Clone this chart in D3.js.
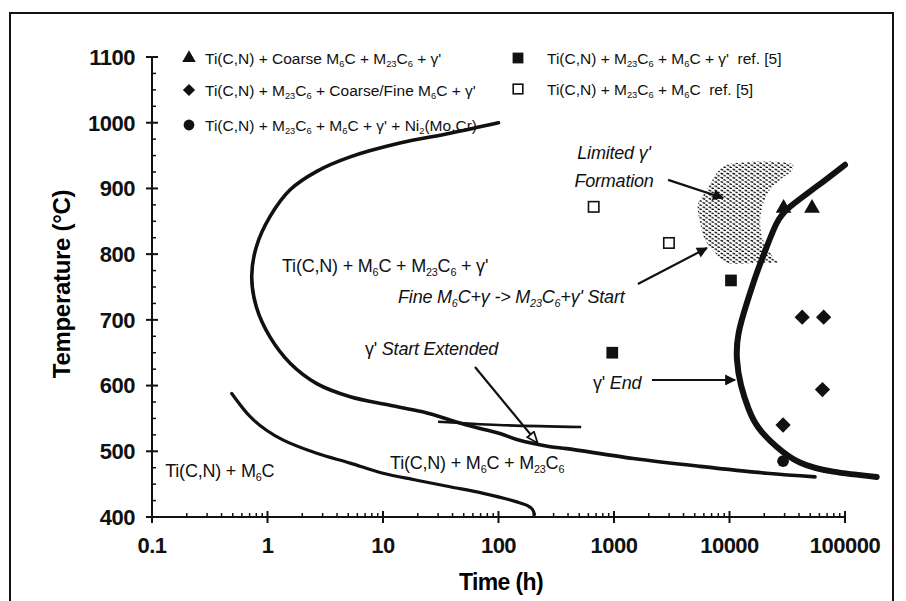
<!DOCTYPE html>
<html><head><meta charset="utf-8">
<script src="https://cdn.jsdelivr.net/npm/d3@7"></script>
<style>
html,body{margin:0;padding:0;background:#fff;}
svg{display:block;font-family:"Liberation Sans",Arial,sans-serif;}
</style></head>
<body><svg id="c" width="906" height="601"></svg>
<script>
// ---------- data ----------
const yTicks = [400, 500, 600, 700, 800, 900, 1000, 1100];
const xTicks = [0.1, 1, 10, 100, 1000, 10000, 100000];
const xTickLabels = ["0.1", "1", "10", "100", "1000", "10000", "100000"];

// gamma' start C-curve [time h, temp C]
const startCurve = [[100,1000],[38,984],[14,969],[5.2,948],[2.67,926],[1.57,898],[1.05,857],[0.8,811],[0.73,766],[0.8,720],[1.05,674],[1.57,634],[2.67,603],[5.2,583],[11.5,570],[22,560],[53,540],[103,527],[144,518],[280,507],[390,504],[1470,489],[5560,477],[21000,466.5],[55000,461]];
const startExtended = [[30,545],[100,540],[520,537]];
const lowerCurve = [[0.49,588],[0.705,553],[0.98,532],[1.37,517],[2.67,497],[5.2,482],[10,466.5],[19.6,456],[38,446],[74,436],[144,423],[180,417],[196,412],[205,404]];
const endCurve = [[100000,936],[56900,903],[33400,872],[25600,847],[21000,811],[17200,771],[14100,725],[12000,680],[11600,640],[12600,600],[14600,565],[17800,536],[25600,507],[40700,483],[79200,469],[188000,461]];
const limitedRegion = [[9500,936],[35500,936],[34800,928],[27400,913],[22400,898],[19500,876],[18400,848],[19500,822],[23800,796],[26300,788],[17300,787],[9500,787],[7490,802],[6140,822],[5560,848],[5340,876],[6380,898],[7800,924]];

// experimental points
const triangles = [[29400,870],[51800,870]];
const diamonds = [[42600,704],[65300,704],[63800,594],[29100,540]];
const circles = [[29100,485]];
const filledSquares = [[10300,760],[966,650]];
const openSquares = [[667,872],[2990,817]];

const legendItems = [
  {sym:"triangle", text:"Ti(C,N) + Coarse M_{6}C + M_{23}C_{6} + γ'"},
  {sym:"diamond", text:"Ti(C,N) + M_{23}C_{6} + Coarse/Fine M_{6}C + γ'"},
  {sym:"circle", text:"Ti(C,N) + M_{23}C_{6} + M_{6}C + γ' + Ni_{2}(Mo,Cr)"},
  {sym:"square", text:"Ti(C,N) + M_{23}C_{6} + M_{6}C + γ'\u00a0\u00a0ref. [5]"},
  {sym:"opensquare", text:"Ti(C,N) + M_{23}C_{6} + M_{6}C\u00a0\u00a0ref. [5]"}
];

const regionLabels = [
  {t:1.335, T:773, text:"Ti(C,N) + M_{6}C + M_{23}C_{6} + γ'", anchor:"start"},
  {t:0.13, T:461, text:"Ti(C,N) + M_{6}C", anchor:"start"},
  {t:11.5, T:473, text:"Ti(C,N) + M_{6}C + M_{23}C_{6}", anchor:"start"}
];
const noteLabels = [
  {t:13.5, T:726, text:"*Fine M_{6}C+γ -> M_{23}C_{6}+γ' Start*", anchor:"start"},
  {t:6.98, T:647, text:"γ' *Start Extended*", anchor:"start"},
  {t:1000, T:945, text:"*Limited γ'*", anchor:"middle"},
  {t:1000, T:902, text:"*Formation*", anchor:"middle"},
  {t:658, T:595, text:"γ' *End*", anchor:"start"}
];
const arrows = [
  {from:[2940,913], to:[8790,885.5]},
  {from:[1610,754.6], to:[6380,809.4]},
  {from:[2130,608.5], to:[11170,608.5]},
  {from:[62.6,628.3], to:[215,514], open:true}
];

// ---------- drawing ----------
const svg = d3.select("#c");
const x = d3.scaleLog().domain([0.1, 100000]).range([152, 845]);
const y = d3.scaleLinear().domain([400, 1100]).range([517, 57]);

// frame
svg.append("path").attr("d","M10,601V13H893V601").attr("fill","none").attr("stroke","#111").attr("stroke-width",2);

const defs = svg.append("defs");
const pat = defs.append("pattern").attr("id","dots").attr("patternUnits","userSpaceOnUse")
  .attr("width",6).attr("height",4.2);
pat.append("path").attr("d","M0.5,1 L3.2,1.9 M3.5,3.2 L6,4").attr("stroke","#000").attr("stroke-width",1.3);
defs.append("marker").attr("id","ah").attr("viewBox","0 0 10 10").attr("refX",9).attr("refY",5)
  .attr("markerWidth",5.5).attr("markerHeight",5).attr("orient","auto")
  .append("path").attr("d","M0,0L10,5L0,10z").attr("fill","#111");
defs.append("marker").attr("id","ao").attr("viewBox","0 0 10 10").attr("refX",9).attr("refY",5)
  .attr("markerWidth",6).attr("markerHeight",5).attr("orient","auto")
  .append("path").attr("d","M0,1L10,5L0,9z").attr("fill","#fff").attr("stroke","#111").attr("stroke-width",1.6);

// rich text helper: _{sub}, *italic*
function rich(sel, str, size) {
  const parts = str.split(/(_\{[^}]*\}|\*)/).filter(s => s !== "");
  let italic = false, shifted = false;
  parts.forEach(p => {
    if (p === "*") { italic = !italic; return; }
    const sub = p.startsWith("_{");
    const txt = sub ? p.slice(2, -1) : p;
    const ts = sel.append("tspan").text(txt).attr("font-style", italic ? "italic" : "normal");
    if (sub) { ts.attr("font-size", size*0.6).attr("dy", shifted ? 0 : size*0.22); shifted = true; }
    else if (shifted) { ts.attr("dy", -size*0.22); shifted = false; }
  });
}

// axes
const axG = svg.append("g").attr("stroke","#111");
axG.append("line").attr("x1",x(0.1)).attr("x2",x(0.1)).attr("y1",y(1100)).attr("y2",y(400)).attr("stroke-width",2);
axG.append("line").attr("x1",x(0.1)).attr("x2",x(100000)).attr("y1",y(400)).attr("y2",y(400)).attr("stroke-width",2);
d3.range(400, 1101, 25).forEach(v => {
  const major = v % 100 === 0;
  axG.append("line").attr("x1", x(0.1) - (major ? 6 : 0)).attr("x2", x(0.1) + (major ? 6 : 4))
    .attr("y1", y(v)).attr("y2", y(v)).attr("stroke-width", major ? 2 : 1.5);
});
x.ticks().forEach(v => {
  const major = Math.abs(Math.log10(v) - Math.round(Math.log10(v))) < 1e-6;
  axG.append("line").attr("x1", x(v)).attr("x2", x(v))
    .attr("y1", y(400) + (major ? 6 : 0)).attr("y2", y(400) - (major ? 6 : 4)).attr("stroke-width", major ? 2 : 1.5);
});
const yl = svg.append("g").attr("font-weight","bold").attr("font-size",22).attr("fill","#111");
yTicks.forEach(v => yl.append("text").attr("x", x(0.1) - 17).attr("y", y(v)).attr("dy","0.36em")
  .attr("text-anchor","end").attr("letter-spacing",-0.5).text(v));
xTicks.forEach((v,i) => yl.append("text").attr("x", x(v)).attr("y", 553)
  .attr("text-anchor","middle").attr("letter-spacing",-0.5).text(xTickLabels[i]));
svg.append("text").attr("x",501).attr("y",590).attr("text-anchor","middle")
  .attr("font-weight","bold").attr("font-size",23).attr("letter-spacing",-0.6).text("Time (h)");
svg.append("text").attr("transform","translate(70,284) rotate(-90)").attr("text-anchor","middle")
  .attr("font-weight","bold").attr("font-size",24).attr("letter-spacing",-0.3).text("Temperature (°C)");

// region
const lineGen = d3.line().x(d => x(d[0])).y(d => y(d[1])).curve(d3.curveCatmullRom.alpha(0.5));
svg.append("path").attr("d", d3.line().x(d => x(d[0])).y(d => y(d[1])).curve(d3.curveCatmullRomClosed.alpha(0.5))(limitedRegion))
  .attr("fill","url(#dots)").attr("stroke","none");

// curves
svg.append("path").attr("d", lineGen(startCurve)).attr("fill","none").attr("stroke","#111").attr("stroke-width",3.6).attr("stroke-linecap","round");
svg.append("path").attr("d", lineGen(startExtended)).attr("fill","none").attr("stroke","#111").attr("stroke-width",2.6);
svg.append("path").attr("d", lineGen(lowerCurve)).attr("fill","none").attr("stroke","#111").attr("stroke-width",3.2).attr("stroke-linecap","round");
svg.append("path").attr("d", d3.line().x(d => x(d[0])).y(d => y(d[1])).curve(d3.curveNatural)(endCurve))
  .attr("fill","none").attr("stroke","#111").attr("stroke-width",6).attr("stroke-linecap","round");

// arrows
arrows.forEach(a => {
  svg.append("line").attr("x1", x(a.from[0])).attr("y1", y(a.from[1])).attr("x2", x(a.to[0])).attr("y2", y(a.to[1]))
    .attr("stroke","#111").attr("stroke-width", 2.2).attr("marker-end", a.open ? "url(#ao)" : "url(#ah)");
});

// symbols
function sym(g, type, cx, cy, s) {
  if (type === "triangle") g.append("path").attr("d", d3.symbol(d3.symbolTriangle, s*s*0.55)()).attr("transform",`translate(${cx},${cy})`).attr("fill","#111");
  else if (type === "diamond") g.append("rect").attr("x",-s*0.36).attr("y",-s*0.36).attr("width",s*0.72).attr("height",s*0.72).attr("transform",`translate(${cx},${cy}) rotate(45)`).attr("fill","#111");
  else if (type === "circle") g.append("circle").attr("cx",cx).attr("cy",cy).attr("r",s*0.45).attr("fill","#111");
  else if (type === "square") g.append("rect").attr("x",cx-s*0.45).attr("y",cy-s*0.45).attr("width",s*0.9).attr("height",s*0.9).attr("fill","#111");
  else if (type === "opensquare") g.append("rect").attr("x",cx-s*0.4).attr("y",cy-s*0.4).attr("width",s*0.8).attr("height",s*0.8).attr("fill","#fff").attr("stroke","#111").attr("stroke-width",1.6);
}
const pts = svg.append("g");
triangles.forEach(d => sym(pts,"triangle",x(d[0]),y(d[1]),14));
diamonds.forEach(d => sym(pts,"diamond",x(d[0]),y(d[1]),15));
circles.forEach(d => sym(pts,"circle",x(d[0]),y(d[1]),13));
filledSquares.forEach(d => sym(pts,"square",x(d[0]),y(d[1]),13));
openSquares.forEach(d => sym(pts,"opensquare",x(d[0]),y(d[1]),13));

// labels
regionLabels.concat(noteLabels).forEach(l => {
  const t = svg.append("text").attr("x", x(l.t)).attr("y", y(l.T)).attr("font-size",18).attr("text-anchor",l.anchor).attr("fill","#111").attr("letter-spacing",-0.2);
  rich(t, l.text, 18);
});

// legend
const legPos = [[189,58],[189,90],[189,125],[518,58],[518,89]];
legendItems.forEach((it,i) => {
  const [lx,ly] = legPos[i];
  sym(svg, it.sym, lx, ly, 12);
  const t = svg.append("text").attr("x", lx + (i < 3 ? 16 : 29)).attr("y", ly + 5.5).attr("font-size",15.5).attr("fill","#111");
  rich(t, it.text, 15.5);
});
</script></body></html>
